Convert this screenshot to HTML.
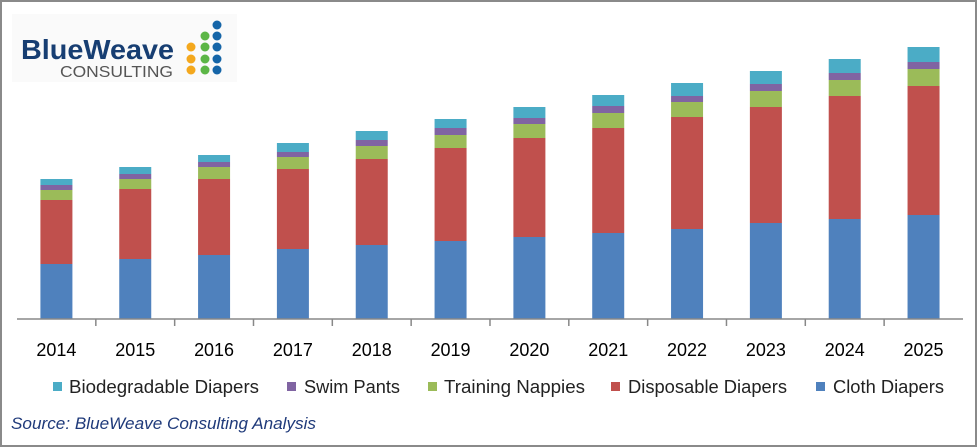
<!DOCTYPE html>
<html><head><meta charset="utf-8"><style>
html,body{margin:0;padding:0;background:#fff}
svg{display:block}
text{font-family:"Liberation Sans",sans-serif}
</style></head><body>
<svg width="977" height="447" viewBox="0 0 977 447" xmlns="http://www.w3.org/2000/svg">
<rect x="1" y="1" width="975" height="445" fill="#fff" stroke="#8a8a8a" stroke-width="2"/>
<rect x="12" y="14" width="225" height="68" fill="#fafafa"/>
<text x="21" y="59" font-size="28" font-weight="bold" fill="#173e72" textLength="153" lengthAdjust="spacingAndGlyphs">BlueWeave</text>
<text x="60" y="77" font-size="16" fill="#555" textLength="113" lengthAdjust="spacingAndGlyphs">CONSULTING</text>
<g>
<circle cx="217" cy="25" r="4.5" fill="#1565a8"/>
<circle cx="205" cy="36" r="4.5" fill="#5cb646"/><circle cx="217" cy="36" r="4.5" fill="#1565a8"/>
<circle cx="191" cy="47" r="4.5" fill="#f4a81d"/><circle cx="205" cy="47" r="4.5" fill="#5cb646"/><circle cx="217" cy="47" r="4.5" fill="#1565a8"/>
<circle cx="191" cy="59" r="4.5" fill="#f4a81d"/><circle cx="205" cy="59" r="4.5" fill="#5cb646"/><circle cx="217" cy="59" r="4.5" fill="#1565a8"/>
<circle cx="191" cy="70" r="4.5" fill="#f4a81d"/><circle cx="205" cy="70" r="4.5" fill="#5cb646"/><circle cx="217" cy="70" r="4.5" fill="#1565a8"/>
</g>
<g id="bars"></g>
<line x1="17" y1="319" x2="963" y2="319" stroke="#888" stroke-width="1.5"/>
<g id="ticks" stroke="#888" stroke-width="1.5"></g>
<g id="labels" font-size="18" fill="#000" text-anchor="middle"></g>
<g font-size="18" fill="#222" lengthAdjust="spacingAndGlyphs">
<rect x="53" y="382" width="9" height="9" fill="#4bacc6"/><text x="69" y="393" textLength="190" lengthAdjust="spacingAndGlyphs">Biodegradable Diapers</text>
<rect x="287" y="382" width="9" height="9" fill="#8064a2"/><text x="304" y="393" textLength="96" lengthAdjust="spacingAndGlyphs">Swim Pants</text>
<rect x="428" y="382" width="9" height="9" fill="#9bbb59"/><text x="444" y="393" textLength="141" lengthAdjust="spacingAndGlyphs">Training Nappies</text>
<rect x="611" y="382" width="9" height="9" fill="#c0504d"/><text x="628" y="393" textLength="159" lengthAdjust="spacingAndGlyphs">Disposable Diapers</text>
<rect x="816" y="382" width="9" height="9" fill="#4f81bd"/><text x="833" y="393" textLength="111" lengthAdjust="spacingAndGlyphs">Cloth Diapers</text>
</g>
<text x="11" y="429" font-size="17" font-style="italic" fill="#1f3a7a" textLength="305" lengthAdjust="spacingAndGlyphs">Source: BlueWeave Consulting Analysis</text>
</svg>
<script>
var d=[[179,185,190,200,264],[167,174,179,189,259],[155,162,167,179,255],[143,152,157,169,249],[131,140,146,159,245],[119,128,135,148,241],[107,118,124,138,237],[95,106,113,128,233],[83,96,102,117,229],[71,84,91,107,223],[59,73,80,96,219],[47,62,69,86,215]];
var c=["#4bacc6","#8064a2","#9bbb59","#c0504d","#4f81bd"];
var ns="http://www.w3.org/2000/svg",b=document.getElementById("bars"),t=document.getElementById("ticks"),l=document.getElementById("labels");
var w=78.83;
d.forEach(function(r,i){var cx=17+w*(i+0.5);var y=r.concat([319]);
for(var k=0;k<5;k++){var e=document.createElementNS(ns,"rect");e.setAttribute("x",cx-16);e.setAttribute("width",32);e.setAttribute("y",y[k]);e.setAttribute("height",y[k+1]-y[k]);e.setAttribute("fill",c[k]);b.appendChild(e);}
var x=document.createElementNS(ns,"text");x.setAttribute("x",cx);x.setAttribute("y",356);x.setAttribute("textLength",40);x.setAttribute("lengthAdjust","spacingAndGlyphs");x.textContent=2014+i;l.appendChild(x);
if(i>0){var ln=document.createElementNS(ns,"line");var tx=17+w*i;ln.setAttribute("x1",tx);ln.setAttribute("x2",tx);ln.setAttribute("y1",319);ln.setAttribute("y2",326);t.appendChild(ln);}
});
</script>
</body></html>
